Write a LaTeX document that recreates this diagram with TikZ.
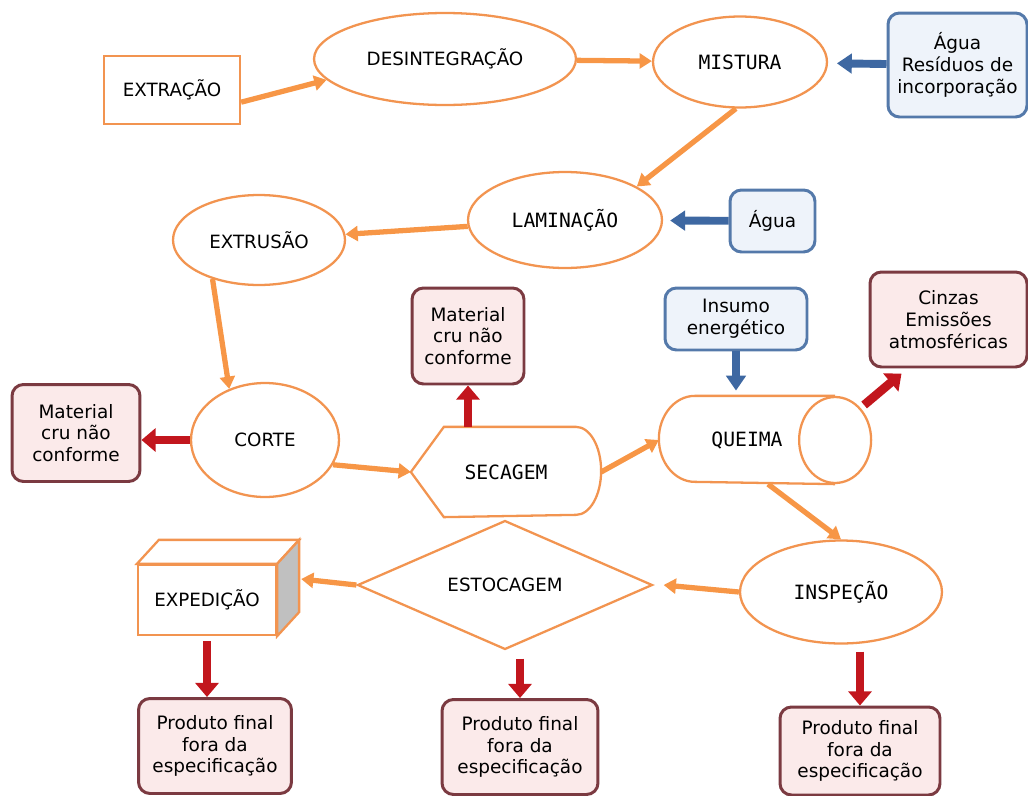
\documentclass[tikz,border=0pt]{standalone}
\usepackage{fontspec}
\setmainfont{DejaVu Sans}
\newfontfamily\monolabel{DejaVu Sans Mono}
\usetikzlibrary{shapes.geometric,arrows.meta,calc,positioning}

\definecolor{stepline}{HTML}{F29450}
\definecolor{flowarrow}{HTML}{F79646}
\definecolor{inline}{HTML}{5479AA}
\definecolor{infill}{HTML}{EEF3FA}
\definecolor{inarrow}{HTML}{3E68A2}
\definecolor{outline}{HTML}{7B3A41}
\definecolor{outfill}{HTML}{FBEAEA}
\definecolor{outarrow}{HTML}{C2161D}
\definecolor{sideface}{HTML}{C0C0C0}

\tikzset{
  proc/.style={draw=stepline, line width=1.3pt, fill=white, inner sep=0pt,
    font=\fontsize{10.4}{12.5}\selectfont},
  procell/.style={proc, ellipse},
  mono/.style={font=\monolabel\fontsize{11.2}{13}\selectfont},
  inbox/.style={draw=inline, fill=infill, line width=1.7pt, rounded corners=6.5pt,
    align=center, inner sep=0pt, font=\fontsize{10.5}{12.4}\selectfont},
  outbox/.style={inbox, draw=outline, fill=outfill},
  flow/.style={draw=flowarrow, line width=3pt, -{Triangle[length=7pt,width=8.5pt]}},
  feed/.style={draw=inarrow, line width=4.5pt, -{Triangle[length=8.5pt,width=11pt]}},
  loss/.style={draw=outarrow, line width=5pt, -{Triangle[length=8pt,width=13pt]}},
}

\begin{document}
\begin{tikzpicture}[x=0.02cm, y=-0.02cm]
  \useasboundingbox (0,0) rectangle (1028,795);

  \node[proc, minimum width=2.72cm, minimum height=1.36cm] (extracao) at (172,90) {EXTRAÇÃO};
  \node[procell, minimum width=5.24cm, minimum height=1.84cm] (desint) at (445,59) {DESINTEGRAÇÃO};
  \node[procell, mono, minimum width=3.48cm, minimum height=1.82cm] (mistura) at (740,62) {MISTURA};
  \node[inbox, minimum width=2.78cm, minimum height=2.08cm] (agua1) at (957.5,65) {Água\\Resíduos de\\incorporação};

  \node[procell, mono, minimum width=3.88cm, minimum height=1.92cm] (laminacao) at (565,220) {LAMINAÇÃO};
  \node[inbox, minimum width=1.7cm, minimum height=1.24cm] (agua2) at (772.5,221) {Água};
  \node[procell, minimum width=3.44cm, minimum height=1.8cm] (extrusao) at (259,240) {EXTRUSÃO};

  \node[procell, minimum width=2.96cm, minimum height=2.28cm] (corte) at (265,440) {CORTE};
  \node[outbox, minimum width=2.56cm, minimum height=1.94cm] (mat1) at (76,433) {Material\\cru não\\conforme};
  \node[outbox, minimum width=2.24cm, minimum height=1.92cm] (mat2) at (468,336) {Material\\cru não\\conforme};

  \node[proc, mono, draw=none, fill=none, minimum width=3.76cm, minimum height=1.76cm] (secagem) at (506,472) {SECAGEM};
  \draw[proc, fill=none] (secagem.west) -- ([xshift=0.66cm]secagem.north west)
    -- ([xshift=-0.5cm]secagem.north east)
    arc[start angle=90, end angle=-90, x radius=0.5cm, y radius=0.88cm]
    -- ([xshift=0.66cm]secagem.south west) -- cycle;

  \node[inbox, minimum width=2.84cm, minimum height=1.24cm] (insumo) at (736,319) {Insumo\\energético};
  \node[outbox, minimum width=3.14cm, minimum height=1.9cm] (cinzas) at (948.5,319.5) {Cinzas\\Emissões\\atmosféricas};

  \node[proc, mono, draw=none, fill=none, minimum width=3.48cm, minimum height=1.72cm] (queima) at (747,440) {QUEIMA};
  \draw[proc, fill=none] (queima.north east) -- ([xshift=0.72cm]queima.north west)
    arc[start angle=90, end angle=270, x radius=0.72cm, y radius=0.86cm]
    -- (queima.south east);
  \draw[proc, fill=none] (queima.east) ellipse[x radius=0.72cm, y radius=0.86cm];

  \node[procell, mono, minimum width=4.04cm, minimum height=2.06cm] (inspecao) at (841,592) {INSPEÇÃO};
  \node[proc, diamond, minimum width=5.9cm, minimum height=2cm] (estocagem) at (505,585) {ESTOCAGEM};

  \node[proc, minimum width=2.76cm, minimum height=1.4cm] (expedicao) at (207,600) {EXPEDIÇÃO};
  \draw[proc] (expedicao.north west) -- ++(22,-24) -- ($(expedicao.north east)+(22,-24)$)
    -- (expedicao.north east) -- cycle;
  \draw[proc, fill=sideface] (expedicao.north east) -- ++(22,-24) -- ($(expedicao.south east)+(22,-24)$)
    -- (expedicao.south east) -- cycle;

  \node[outbox, minimum width=3.06cm, minimum height=1.9cm] (prod1) at (215,746) {Produto final\\fora da\\especificação};
  \node[outbox, minimum width=3.12cm, minimum height=1.9cm] (prod2) at (520,747) {Produto final\\fora da\\especificação};
  \node[outbox, minimum width=3.2cm, minimum height=1.76cm] (prod3) at (860,751) {Produto final\\fora da\\especificação};

  \draw[flow] (extracao.-10) -- (desint.190);
  \draw[flow] (desint) -- (mistura);
  \draw[feed, shorten >=5pt] (agua1) -- (mistura);
  \draw[flow] (mistura.-95) -- (laminacao.25);
  \draw[feed, shorten >=4pt] (agua2) -- (laminacao);
  \draw[flow] (laminacao) -- (extrusao);
  \draw[flow] (extrusao.220) -- (corte.125);
  \draw[loss] (corte.west) -- (corte.west -| mat1.east);
  \draw[flow] (corte.-20) -- (secagem.west);
  \draw[loss] (secagem.north -| mat2.south) -- (mat2.south);
  \draw[flow] (secagem.east) -- (queima.west);
  \draw[feed, shorten >=3pt] (insumo.south) -- (insumo.south |- queima.north);
  \draw[loss] ($(queima.east)+(29,-35)$) -- ($(cinzas.south west)+(33,5)$);
  \draw[flow] ($(queima.south)+(21,0)$) -- (inspecao.north);
  \draw[flow] (inspecao.west) -- ($(estocagem.east)+(10,0)$);
  \draw[flow] (estocagem.west) -- ($(expedicao.east)+(24,-21)$);
  \draw[loss] ([yshift=-0.1cm]expedicao.south) -- (expedicao.south |- prod1.north);
  \draw[loss] (estocagem.south -| prod2.north) ++(0,8) -- (prod2.north);
  \draw[loss] (inspecao.south -| prod3.north) ++(0,7) -- (prod3.north);
\end{tikzpicture}
\end{document}
